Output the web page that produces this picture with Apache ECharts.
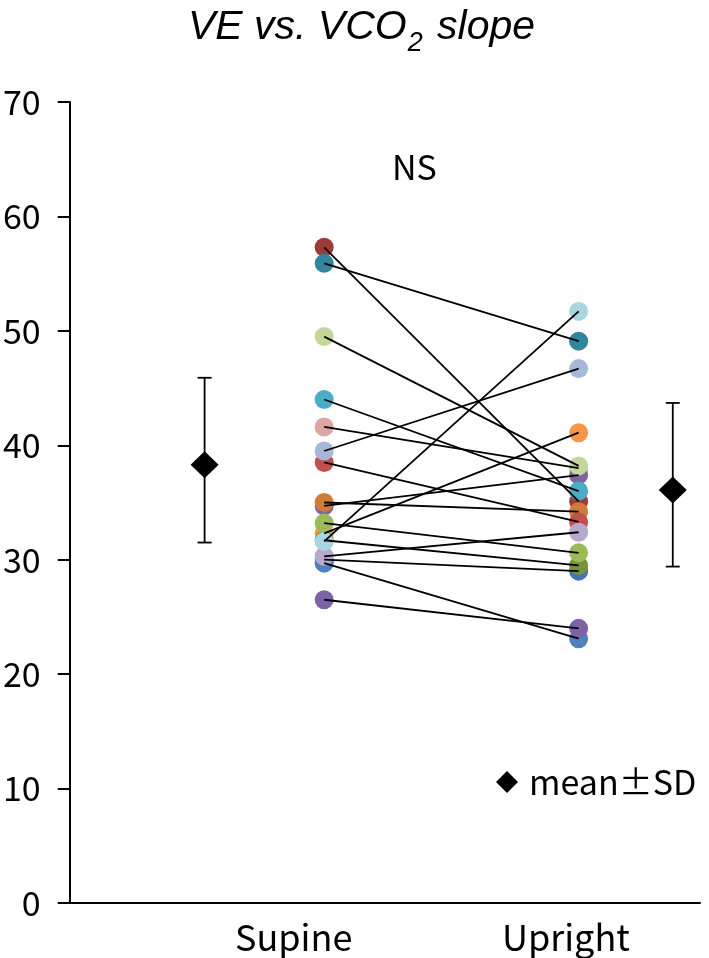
<!DOCTYPE html>
<html><head><meta charset="utf-8">
<script src="https://cdn.jsdelivr.net/npm/echarts@6/dist/echarts.min.js"></script>
<style>html,body{margin:0;padding:0;background:#fff}#c{width:709px;height:958px}</style>
</head><body><div id="c"></div>
<script>
// ---- data ----
const categories = ['Supine', 'Upright'];
const supineValues  = [41.6, 34.7, 57.3, 32.3, 30.0, 29.7, 31.7, 35.0, 38.5, 30.3, 33.2, 31.6, 49.5, 44.0, 55.9, 39.5, 26.5];
const uprightValues = [38.0, 37.4, 35.1, 41.1, 29.0, 23.1, 29.5, 34.2, 33.3, 32.4, 30.6, 51.7, 38.2, 36.0, 49.1, 46.7, 24.0];
const pointColors = ['#DDA5A4', '#8064A2', '#9E3B3A', '#F79646', '#4674B4', '#4F81BD', '#77933C', '#CF7C3A', '#C0504D',
                     '#B7A9CC', '#9BBB59', '#A8D5E0', '#C4D79B', '#4BACC6', '#31859C', '#A6B8DA', '#7E62A6'];
const meanValues = [38.3, 36.1];
const sdLower = [31.5, 29.4];
const sdUpper = [45.9, 43.7];
const yTicks = [0, 10, 20, 30, 40, 50, 60, 70];

// ---- layout on a hidden numeric x scale ----
const pairX = [1, 2];
const meanX = [0.53, 2.37];
const labelX = [0.88, 1.95];

const FONT = '"Noto Sans CJK JP", "Noto Sans", sans-serif';
const chart = echarts.init(document.getElementById('c'), null, {renderer: 'canvas'});

const series = [];
// coloured points
series.push({
  type: 'scatter', z: 2, symbol: 'circle', symbolSize: 19, silent: true,
  itemStyle: {opacity: 1},
  data: supineValues.flatMap((s, i) => [
    {value: [pairX[0], s], itemStyle: {color: pointColors[i], opacity: 1}},
    {value: [pairX[1], uprightValues[i]], itemStyle: {color: pointColors[i], opacity: 1}}
  ])
});
// connecting lines
supineValues.forEach((s, i) => {
  series.push({
    type: 'line', z: 3, symbol: 'none', silent: true,
    lineStyle: {color: '#000', width: 1.8},
    data: [[pairX[0], s], [pairX[1], uprightValues[i]]]
  });
});
// SD bars
series.push({
  type: 'custom', z: 4, silent: true,
  encode: {x: 0, y: [1, 2]},
  data: meanX.map((x, i) => [x, sdLower[i], sdUpper[i]]),
  renderItem: (params, api) => {
    const x = api.value(0);
    const a = api.coord([x, api.value(1)]);
    const b = api.coord([x, api.value(2)]);
    const cap = 7, st = {stroke: '#000', lineWidth: 1.8};
    return {type: 'group', children: [
      {type: 'line', shape: {x1: a[0], y1: a[1], x2: b[0], y2: b[1]}, style: st},
      {type: 'line', shape: {x1: a[0] - cap, y1: a[1], x2: a[0] + cap, y2: a[1]}, style: st},
      {type: 'line', shape: {x1: b[0] - cap, y1: b[1], x2: b[0] + cap, y2: b[1]}, style: st}
    ]};
  }
});
// means
series.push({
  name: 'mean±SD', type: 'scatter', z: 5, symbol: 'diamond', symbolSize: [28, 27],
  itemStyle: {color: '#000', opacity: 1}, silent: true,
  data: meanX.map((x, i) => [x, meanValues[i]])
});

chart.setOption({
  animation: false,
  backgroundColor: '#fff',
  title: {
    text: '{a|VE vs. VCO}{s|2}{a| slope}',
    left: 188, top: 7, padding: 0,
    textStyle: {
      rich: {
        a: {fontFamily: '"Liberation Sans", Arial, sans-serif', fontStyle: 'italic', fontWeight: 'normal', fontSize: 41, color: '#000', lineHeight: 50, verticalAlign: 'top'},
        s: {fontFamily: '"Liberation Sans", Arial, sans-serif', fontStyle: 'italic', fontWeight: 'normal', fontSize: 27, color: '#000', lineHeight: 8, verticalAlign: 'bottom', padding: [0, 3, 0, 1]}
      }
    }
  },
  legend: {
    data: [{name: 'mean±SD', icon: 'diamond', itemStyle: {color: '#000', opacity: 1}}],
    left: 496, top: 765, padding: 0, itemWidth: 22, itemHeight: 22,
    textStyle: {fontFamily: FONT, fontSize: 34, color: '#000', padding: [0, 0, 10, 6]},
    selectedMode: false
  },
  grid: {left: 66, right: 9, top: 102, bottom: 55, containLabel: false},
  xAxis: {
    type: 'value', min: 0, max: 2.477,
    splitLine: {show: false},
    axisLine: {show: true, lineStyle: {color: '#000', width: 2}},
    axisTick: {show: false},
    axisLabel: {
      show: true, customValues: labelX, margin: 16,
      fontFamily: FONT, fontSize: 36, color: '#000',
      formatter: v => {
        const k = labelX.findIndex(t => Math.abs(t - v) < 1e-6);
        return k >= 0 ? categories[k] : '';
      }
    }
  },
  yAxis: {
    type: 'value', min: yTicks[0], max: yTicks[yTicks.length - 1], interval: 10,
    splitLine: {show: false},
    axisLine: {show: true, lineStyle: {color: '#000', width: 2}},
    axisTick: {show: true, inside: false, length: 12, lineStyle: {color: '#000', width: 2}},
    axisLabel: {margin: 29, fontFamily: FONT, fontSize: 34, color: '#000'}
  },
  graphic: [
    {type: 'text', left: 392, top: 150, silent: true,
     style: {text: 'NS', fontFamily: FONT, fontSize: 34, fill: '#000'}}
  ],
  series: series
});
</script>
</body></html>
